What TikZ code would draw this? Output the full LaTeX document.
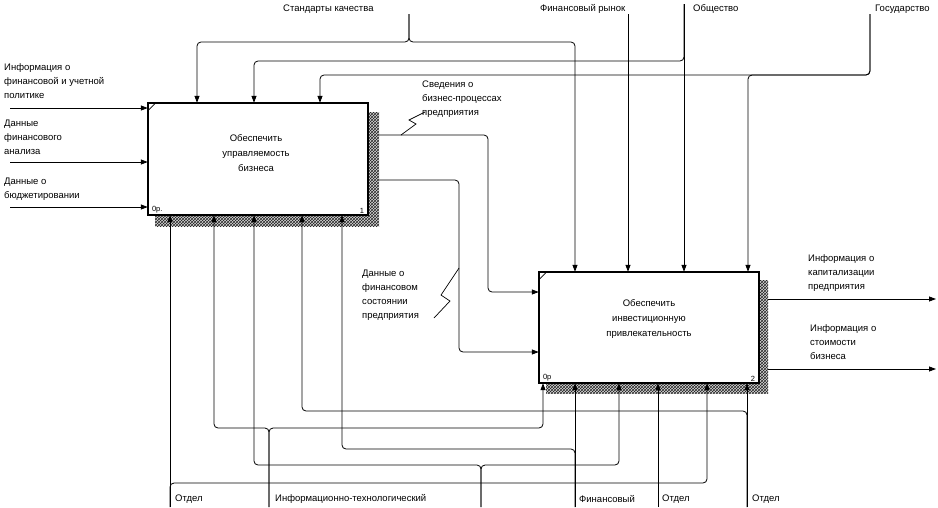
\documentclass[tikz,border=0pt]{standalone}
\usepackage{fontspec}
\setmainfont{Liberation Sans}
\usetikzlibrary{arrows.meta,patterns,calc}
\begin{document}
\begin{tikzpicture}[x=1pt,y=-1pt,
  box/.style={draw, line width=1.5pt, fill=white, inner sep=0pt},
  arr/.style={-{Triangle[length=7pt,width=5pt]}, line width=0.8pt},
  rc/.style={rounded corners=4pt},
  sq/.style={line width=0.7pt},
  lbl/.style={font=\fontsize{9.5}{14}\selectfont, align=left, inner sep=0pt},
  ctr/.style={font=\fontsize{9.5}{15}\selectfont, align=center, inner sep=0pt},
  tiny/.style={font=\fontsize{7.5}{8}\selectfont, inner sep=0pt},
  shade/.style={fill=black!15, postaction={pattern=crosshatch, pattern color=black!85}}
]
\useasboundingbox (0,0) rectangle (938,507);

% boxes (positions)
\path (258,159) node[minimum width=220pt, minimum height=112pt, inner sep=0pt] (b1) {};
\path (649,327.5) node[minimum width=220pt, minimum height=111pt, inner sep=0pt] (b2) {};

% free ends
\coordinate (cS) at (409,14);
\coordinate (cF) at (628,14);
\coordinate (cO) at (684,4);
\coordinate (cG) at (870,14);
\coordinate (i1) at (10,108);
\coordinate (i2) at (10,162);
\coordinate (i3) at (10,207);
\coordinate (o1) at (936,299);
\coordinate (o2) at (936,369);
\coordinate (mA) at (170,507);
\coordinate (mB) at (269,507);
\coordinate (mC) at (481,507);
\coordinate (mD) at (575,507);
\coordinate (mE) at (658,507);
\coordinate (mF) at (747,507);

% controls
\draw[arr,rc] (cS) |- (197,42) -- (197,0 |- b1.north);
\draw[arr,rc] (cS) |- (575,42) -- (575,0 |- b2.north);
\draw[arr] (cF) -- (cF |- b2.north);
\draw[arr] (cO) -- (cO |- b2.north);
\draw[arr,rc] (cO) |- (254,61) -- (254,0 |- b1.north);
\draw[arr,rc] (cG) |- (320,75) -- (320,0 |- b1.north);
\draw[arr,rc] (cG) |- (748,75) -- (748,0 |- b2.north);

% inputs
\draw[arr] (i1) -- (i1 -| b1.west);
\draw[arr] (i2) -- (i2 -| b1.west);
\draw[arr] (i3) -- (i3 -| b1.west);

% box1 outputs to box2
\draw[arr,rc] (b1.east |- 0,135) -| (488,292) -- (b2.west |- 0,292);
\draw[arr,rc] (b1.east |- 0,180) -| (459,352) -- (b2.west |- 0,352);

% box2 outputs
\draw[arr] (b2.east |- o1) -- (o1);
\draw[arr] (b2.east |- o2) -- (o2);

% squiggles
\draw[sq] (425,112) -- (409,120) -- (416,124) -- (401,135);
\draw[sq] (434,318) -- (450,301) -- (441,295) -- (459,268);

% shadows
\path[shade] (155,112) rectangle (379,226);
\path[shade] (546,280) rectangle (768,393);

% boxes
\node[box, minimum width=220pt, minimum height=112pt] at (b1) {};
\node[box, minimum width=220pt, minimum height=111pt] at (b2) {};
\draw[line width=0.6pt] ($(b1.north west)+(1,7)$) -- ++(6,-6);
\draw[line width=0.6pt] ($(b2.north west)+(1,7)$) -- ++(6,-6);
\node[tiny, anchor=south west] at ($(b1.south west)+(4,-2)$) {0р.};
\node[tiny, anchor=south east] at ($(b1.south east)+(-4,-2)$) {1};
\node[tiny, anchor=south west] at ($(b2.south west)+(4,-2)$) {0р};
\node[tiny, anchor=south east] at ($(b2.south east)+(-4,-2)$) {2};

\node[ctr] (t1) at (256,153) {Обеспечить\\управляемость\\бизнеса};
\node[ctr] (t2) at (649,319) {Обеспечить\\инвестиционную\\привлекательность};

% mechanisms
\draw[arr] (mA) -- (mA |- b1.south);
\draw[arr,rc] (mA) |- (707,483) -- (707,0 |- b2.south);
\draw[arr,rc] (mB) |- (214,428) -- (214,0 |- b1.south);
\draw[arr,rc] (mB) |- (543,428) -- (543,0 |- b2.south);
\draw[arr,rc] (mC) |- (254,465) -- (254,0 |- b1.south);
\draw[arr,rc] (mC) |- (619,465) -- (619,0 |- b2.south);
\draw[arr] (mD) -- (mD |- b2.south);
\draw[arr,rc] (mD) |- (342,449) -- (342,0 |- b1.south);
\draw[arr] (mE) -- (mE |- b2.south);
\draw[arr] (mF) -- (mF |- b2.south);
\draw[arr,rc] (mF) |- (302,411) -- (302,0 |- b1.south);

% labels
\node[lbl, anchor=west] (lS) at (283,9) {Стандарты качества};
\node[lbl, anchor=west] (lF) at (540,9) {Финансовый рынок};
\node[lbl, anchor=west] (lO) at (693,9) {Общество};
\node[lbl, anchor=west] (lG) at (875,9) {Государство};
\node[lbl, anchor=west] (l1) at (4,81) {Информация о\\финансовой и учетной\\политике};
\node[lbl, anchor=west] (l2) at (4,137) {Данные\\финансового\\анализа};
\node[lbl, anchor=west] (l3) at (4,189) {Данные о\\бюджетировании};
\node[lbl, anchor=west] (l4) at (422,99) {Сведения о\\бизнес-процессах\\предприятия};
\node[lbl, anchor=west] (l5) at (362,295.5) {Данные о\\финансовом\\состоянии\\предприятия};
\node[lbl, anchor=west] (l6) at (808,273) {Информация о\\капитализации\\предприятия};
\node[lbl, anchor=west] (l7) at (810,342) {Информация о\\стоимости\\бизнеса};
\node[lbl, anchor=west] (lA) at (175,499) {Отдел};
\node[lbl, anchor=west] (lB) at (275,499) {Информационно-технологический};
\node[lbl, anchor=west] (lD) at (579,499) {Финансовый};
\node[lbl, anchor=west] (lE) at (662,499) {Отдел};
\node[lbl, anchor=west] (lF2) at (752,499) {Отдел};
\end{tikzpicture}
\end{document}
